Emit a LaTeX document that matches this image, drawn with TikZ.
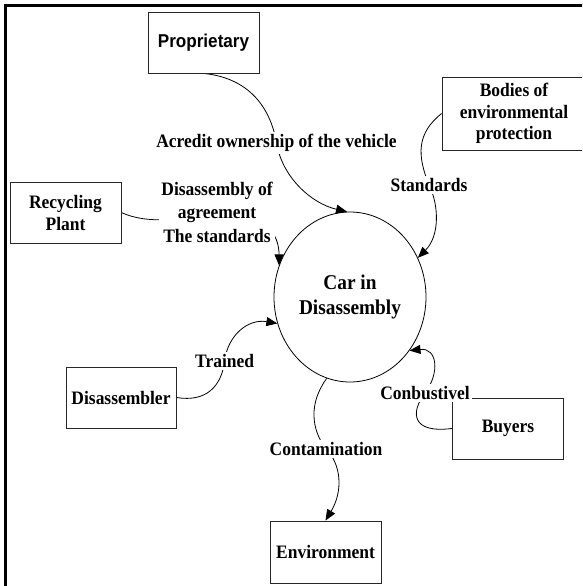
\documentclass[tikz,border=0pt]{standalone}
\usepackage{fontspec}
\setmainfont{Liberation Serif}[FakeStretch=0.92]
\newfontfamily\propfont{Liberation Sans}[FakeStretch=0.92]
\usetikzlibrary{arrows.meta,shapes.geometric,backgrounds}

\begin{document}
\begin{tikzpicture}[x=1pt,y=-1pt,
	box/.style={draw=black!85,line width=0.8pt,minimum width=111pt,minimum height=61pt,inner sep=0pt,align=center,font=\bfseries\fontsize{19}{22}\selectfont},
	lbl/.style={fill=white,inner sep=2pt,align=center,font=\bfseries\fontsize{19}{23.5}\selectfont},
	flow/.style={line width=0.8pt,-{Triangle[length=11pt,width=9pt]}}]
				%%%%% START %%%%%
				\def\cx{350}
				\def\cy{297}
				\def\rw{152pt}
				\def\rh{170pt}
				
				\useasboundingbox (0,0) rectangle (582,586);
				\clip (0,0) rectangle (582,586);
				\draw[line width=2.8pt] (5.6,5.8) rectangle (600,600);
				
				% boxes
				\node[box,font=\propfont\bfseries\fontsize{18.6}{22}\selectfont] (prop) at (203.5,42.5) {Proprietary};
				\node[box,minimum width=144pt,minimum height=73pt,font=\bfseries\fontsize{19}{21.7}\selectfont] (bodies) at (514,113.5) {Bodies of\\environmental\\protection};
				\node[box] (recycle) at (65.5,212.5) {Recycling\\Plant};
				\node[box,minimum width=110pt] (dis) at (121,397.5) {Disassembler};
				\node[box,minimum width=111.5pt] (buyers) at (508,428.5) {Buyers};
				\node[box,minimum height=62pt] (env) at (325.5,552) {Environment};
				\node[draw,ellipse,line width=0.8pt,minimum width=\rw,minimum height=\rh,inner sep=0pt,align=center,font=\bfseries\fontsize{21}{25}\selectfont] (car) at (\cx,\cy) {Car in\\Disassembly};
				
				% labels
				\node[lbl] (acredit) at (276.5,143) {Acredit ownership of the vehicle};
				\node[lbl] (stdright) at (429,185) {Standards};
				\node[lbl] (agree) at (217,212) {Disassembly of\\agreement\\The standards};
				\node[lbl] (trained) at (224.6,361) {Trained};
				\node[lbl] (fuel) at (425,393) {Conbustivel};
				\node[lbl] (contam) at (326,449) {Contamination};
				
				\begin{pgfonlayer}{background}
				\draw[flow] (prop.south) .. controls +(50,5) and +(-5,-30) .. (acredit.center) .. controls +(6,35) and +(-35,-8) .. (car.92);
				\draw[flow] (bodies.west) .. controls +(-25,20) and +(-12,-30) .. (stdright.center) .. controls +(10,20) and +(22,-22) .. (car.30);
				\draw[flow] (recycle.east) .. controls +(25,12) and +(-30,8) .. (agree.center) .. controls +(50,0) and +(0,-30) .. (car.156);
				\draw[flow] (dis.east) .. controls +(30,5) and +(-3,25) .. (trained.center) .. controls +(3,-25) and +(-30,-5) .. (car.200);
				\draw[flow] (buyers.west) .. controls +(-40,5) and +(-15,20) .. (fuel.center) .. controls +(15,-20) and +(28,-3) .. (car.318);
				\draw[flow] (car.254) .. controls +(-18,25) and +(-15,-20) .. (contam.center) .. controls +(15,15) and +(18,-30) .. (env.north);
				\end{pgfonlayer}
				%%%%% END %%%%%
\end{tikzpicture}
\end{document}
